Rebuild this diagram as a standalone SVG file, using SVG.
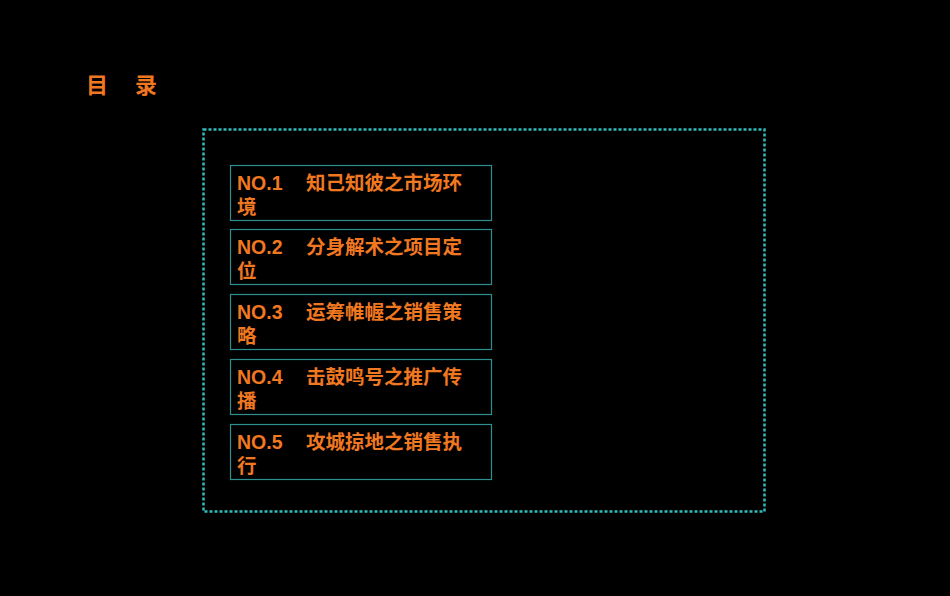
<svg xmlns="http://www.w3.org/2000/svg" width="950" height="596" viewBox="0 0 950 596">
<style>
.t{font-family:"Liberation Sans","Noto Sans CJK SC",sans-serif;font-size:19.5px;font-weight:bold;fill:#F07820}
.b{fill:none;stroke:#2F8F8F;stroke-width:1.2}
</style>
<rect width="950" height="596" fill="#000"/>
<text class="t" x="86" y="93" style="font-size:22px">目</text>
<text class="t" x="135" y="93" style="font-size:22px">录</text>
<rect x="203.5" y="129.5" width="561" height="382" fill="none" stroke="#33BBBB" stroke-width="2.5" stroke-dasharray="3,2"/>
<g id="n1"><rect class="b" x="230.5" y="165.5" width="261" height="55"/><text class="t" x="237" y="190">NO.1</text><text class="t" x="306" y="190">知己知彼之市场环</text><text class="t" x="237" y="214">境</text></g>
<g id="n2"><rect class="b" x="230.5" y="229.5" width="261" height="55"/><text class="t" x="237" y="254">NO.2</text><text class="t" x="306" y="254">分身解术之项目定</text><text class="t" x="237" y="278">位</text></g>
<g id="n3"><rect class="b" x="230.5" y="294.5" width="261" height="55"/><text class="t" x="237" y="319">NO.3</text><text class="t" x="306" y="319">运筹帷幄之销售策</text><text class="t" x="237" y="343">略</text></g>
<g id="n4"><rect class="b" x="230.5" y="359.5" width="261" height="55"/><text class="t" x="237" y="384">NO.4</text><text class="t" x="306" y="384">击鼓鸣号之推广传</text><text class="t" x="237" y="408">播</text></g>
<g id="n5"><rect class="b" x="230.5" y="424.5" width="261" height="55"/><text class="t" x="237" y="449">NO.5</text><text class="t" x="306" y="449">攻城掠地之销售执</text><text class="t" x="237" y="473">行</text></g>
<g id="connectors"/>
</svg>
